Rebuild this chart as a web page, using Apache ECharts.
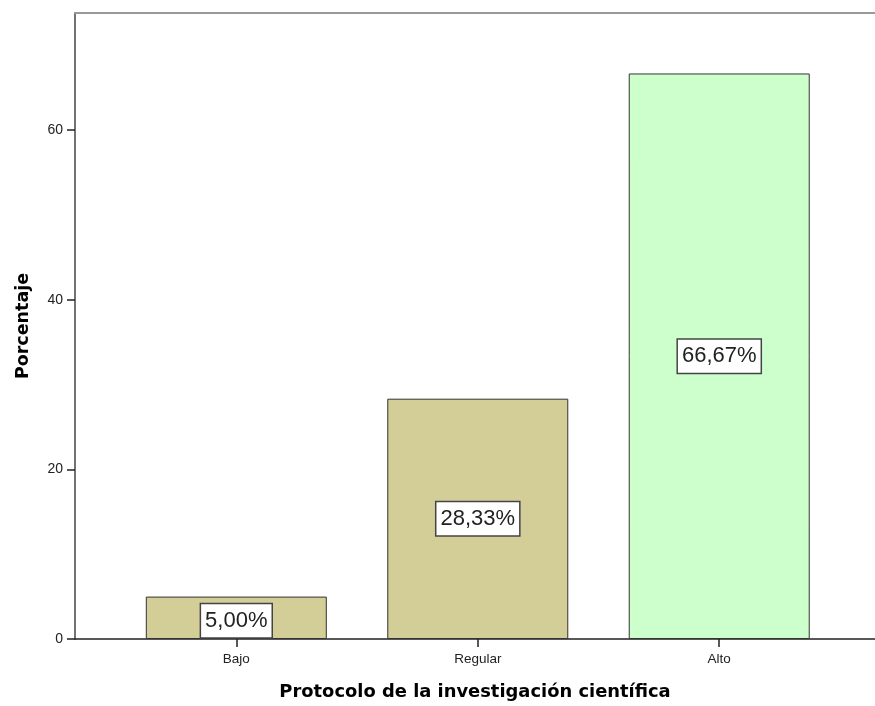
<!DOCTYPE html>
<html>
<head>
<meta charset="utf-8">
<script src="https://cdn.jsdelivr.net/npm/echarts@6/dist/echarts.min.js"></script>
<style>html,body{margin:0;padding:0;background:#fff}#c{width:875px;height:706px}</style>
</head>
<body>
<div id="c"></div>
<script>
const categories = ['Bajo', 'Regular', 'Alto'];
const values = [5.00, 28.33, 66.67];
const labels = ['5,00%', '28,33%', '66,67%'];
const yTicks = [0, 20, 40, 60];
const colors = ['#d3ce97', '#d3ce97', '#ccffcc'];

const chart = echarts.init(document.getElementById('c'), null, {renderer: 'canvas'});
const font = 'Liberation Sans, Arial, sans-serif';
const titleFont = 'DejaVu Sans, Verdana, sans-serif';
chart.setOption({
  animation: false,
  grid: {left: 75, right: 0, top: 13, bottom: 66},
  xAxis: [{
    type: 'value', min: -0.668, max: 2.645,
    name: 'Protocolo de la investigación científica',
    nameLocation: 'middle', nameGap: 44,
    nameTextStyle: {fontFamily: titleFont, fontSize: 17.9, fontWeight: 'bold', color: '#000'},
    splitLine: {show: false},
    axisLine: {show: true, onZero: false, lineStyle: {color: '#222', width: 1.5}},
    axisTick: {show: true, customValues: [0, 1, 2], length: 8, lineStyle: {color: '#222', width: 1.5}},
    axisLabel: {customValues: [0, 1, 2], margin: 13, fontFamily: font, fontSize: 13.5, color: '#222',
      formatter: v => categories[Math.round(v)]}
  }, {
    type: 'value', position: 'top', min: -0.668, max: 2.645,
    splitLine: {show: false},
    axisLine: {show: true, onZero: false, lineStyle: {color: '#999', width: 2}},
    axisTick: {show: false}, axisLabel: {show: false}
  }],
  yAxis: {
    type: 'value', min: 0, max: 73.8,
    name: 'Porcentaje', nameLocation: 'middle', nameGap: 43, nameRotate: 90,
    nameTextStyle: {fontFamily: titleFont, fontSize: 17.5, fontWeight: 'bold', color: '#000'},
    splitLine: {show: false},
    axisLine: {show: true, onZero: false, lineStyle: {color: '#444', width: 1.5}},
    axisTick: {show: true, customValues: yTicks, length: 8, lineStyle: {color: '#222', width: 1.5}},
    axisLabel: {customValues: yTicks, margin: 12, fontFamily: font, fontSize: 14, color: '#222'}
  },
  series: [{
    type: 'bar',
    barWidth: 181,
    data: values.map((v, i) => ({
      value: [i, v],
      itemStyle: {color: colors[i]},
      label: i === 0 ? {offset: [0, 3]} : {}
    })),
    itemStyle: {borderColor: '#333', borderWidth: 1},
    label: {
      show: true, position: 'inside',
      formatter: p => labels[p.dataIndex],
      fontFamily: font, fontSize: 22, color: '#222',
      backgroundColor: '#fff', borderColor: '#444', borderWidth: 1.5,
      padding: [4, 4, 3, 4], lineHeight: 26
    }
  }]
});
</script>
</body>
</html>
